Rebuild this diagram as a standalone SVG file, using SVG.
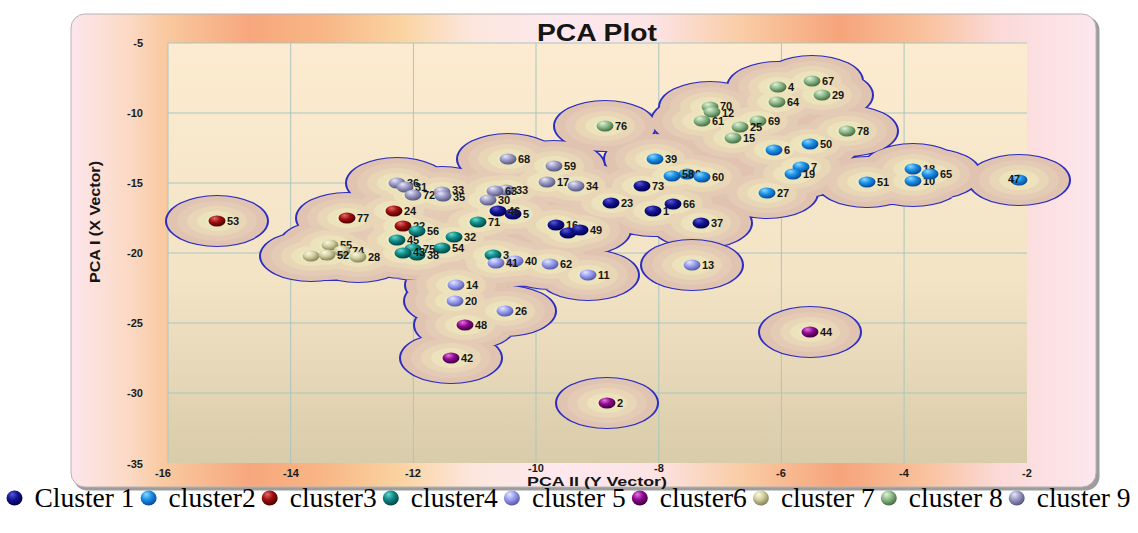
<svg xmlns="http://www.w3.org/2000/svg" xmlns:xlink="http://www.w3.org/1999/xlink" width="1138" height="533" viewBox="0 0 1138 533">
<defs>
<style>
.lb{font-family:"Liberation Sans",Arial,sans-serif;font-weight:bold;font-size:11px;fill:#161616}
.tk{font-family:"Liberation Sans",Arial,sans-serif;font-weight:bold;font-size:11px;fill:#1a1a1a}
.lg{font-family:"Liberation Serif","Times New Roman",serif;font-size:27.5px;fill:#000}
.grid line{stroke:#a9c6bf;stroke-width:1}
.bs{stroke:#2c2cc4;stroke-width:104}
.r1{stroke:#e0c3b1;stroke-width:100}
.r2{stroke:#e4cbb5;stroke-width:80}
.r3{stroke:#e8d6b7;stroke-width:60}
.r4{stroke:#ece2bb;stroke-width:40}
.r5{stroke:#efebc2;stroke-width:22}
.c1{fill:url(#g1)}.c2{fill:url(#g2)}.c3{fill:url(#g3)}.c4{fill:url(#g4)}.c5{fill:url(#g5)}.c6{fill:url(#g6)}.c7{fill:url(#g7)}.c8{fill:url(#g8)}.c9{fill:url(#g9)}
</style>
<linearGradient id="frameG" gradientUnits="userSpaceOnUse" x1="70" y1="0" x2="1098" y2="0">
<stop offset="0" stop-color="#fde6ec"/>
<stop offset=".058" stop-color="#fbd9c4"/>
<stop offset=".092" stop-color="#f9c9a0"/>
<stop offset=".175" stop-color="#f7a77d"/>
<stop offset=".243" stop-color="#f8b585"/>
<stop offset=".321" stop-color="#fad3a0"/>
<stop offset=".389" stop-color="#fce6dc"/>
<stop offset=".477" stop-color="#fde8ee"/>
<stop offset=".564" stop-color="#fce4e6"/>
<stop offset=".652" stop-color="#f9cda6"/>
<stop offset=".749" stop-color="#f6a47a"/>
<stop offset=".827" stop-color="#f9c09a"/>
<stop offset=".905" stop-color="#fbdad8"/>
<stop offset="1" stop-color="#fde7ee"/>
</linearGradient>
<linearGradient id="plotG" x1="0" y1="0" x2="0" y2="1">
<stop offset="0" stop-color="#fcebd0"/>
<stop offset=".55" stop-color="#f3e4c6"/>
<stop offset="1" stop-color="#d9ccaa"/>
</linearGradient>
<radialGradient id="g1" cx=".4" cy=".35" r=".65" fx=".35" fy=".25"><stop offset="0" stop-color="#5a5ad8"/><stop offset=".5" stop-color="#141494"/><stop offset="1" stop-color="#00004a"/></radialGradient>
<radialGradient id="g2" cx=".4" cy=".35" r=".65" fx=".35" fy=".25"><stop offset="0" stop-color="#90d8ff"/><stop offset=".5" stop-color="#1a90e6"/><stop offset="1" stop-color="#0a4a98"/></radialGradient>
<radialGradient id="g3" cx=".4" cy=".35" r=".65" fx=".35" fy=".25"><stop offset="0" stop-color="#e66a6a"/><stop offset=".5" stop-color="#a01010"/><stop offset="1" stop-color="#4a0000"/></radialGradient>
<radialGradient id="g4" cx=".4" cy=".35" r=".65" fx=".35" fy=".25"><stop offset="0" stop-color="#6ad6ce"/><stop offset=".5" stop-color="#108c88"/><stop offset="1" stop-color="#004444"/></radialGradient>
<radialGradient id="g5" cx=".4" cy=".35" r=".65" fx=".35" fy=".25"><stop offset="0" stop-color="#e6e8ff"/><stop offset=".5" stop-color="#9a9ef0"/><stop offset="1" stop-color="#565aa4"/></radialGradient>
<radialGradient id="g6" cx=".4" cy=".35" r=".65" fx=".35" fy=".25"><stop offset="0" stop-color="#e676e6"/><stop offset=".5" stop-color="#900a90"/><stop offset="1" stop-color="#3c003c"/></radialGradient>
<radialGradient id="g7" cx=".4" cy=".35" r=".65" fx=".35" fy=".25"><stop offset="0" stop-color="#fbfae6"/><stop offset=".5" stop-color="#d2ce9e"/><stop offset="1" stop-color="#86825c"/></radialGradient>
<radialGradient id="g8" cx=".4" cy=".35" r=".65" fx=".35" fy=".25"><stop offset="0" stop-color="#e2f2da"/><stop offset=".5" stop-color="#8eba8a"/><stop offset="1" stop-color="#466c44"/></radialGradient>
<radialGradient id="g9" cx=".4" cy=".35" r=".65" fx=".35" fy=".25"><stop offset="0" stop-color="#e8e8f6"/><stop offset=".5" stop-color="#9a9ac6"/><stop offset="1" stop-color="#56567c"/></radialGradient>
<ellipse id="B" cx="0" cy="0" rx="8.5" ry="5.5"/>
<ellipse id="LB" cx="0" cy="0" rx="8" ry="7.5"/>
<path id="blob" fill="none" stroke-linecap="round" d="M642 372h.01M611 406h.01M673 408h.01M653 422h.01M701 446h.01M556 450h.01M568 466h.01M580 460h.01M513 428h.01M498 422h.01M655 318h.01M687 348h.01M672 352h.01M702 354h.01M774 300h.01M810 288h.01M801 334h.01M793 348h.01M767 386h.01M867 364h.01M913 338h.01M913 362h.01M930 348h.01M1019 360h.01M217 442h.01M347 436h.01M394 422h.01M403 452h.01M478 444h.01M417 462h.01M397 480h.01M454 474h.01M442 496h.01M413 498h.01M417 510h.01M403 506h.01M493 510h.01M515 522h.01M496 526h.01M550 528h.01M588 550h.01M456 570h.01M455 602h.01M505 622h.01M465 650h.01M451 716h.01M607 806h.01M810 664h.01M330 490h.01M342 502h.01M311 512h.01M327 510h.01M358 514h.01M605 252h.01M710 214h.01M712 224h.01M702 242h.01M778 174h.01M812 162h.01M822 190h.01M777 204h.01M758 242h.01M740 254h.01M733 276h.01M847 262h.01M397 366h.01M405 374h.01M413 390h.01M442 384h.01M443 392h.01M508 318h.01M554 332h.01M547 364h.01M576 372h.01M506 380h.01M495 382h.01M488 400h.01"/>
<path id="blob13" fill="none" stroke-linecap="round" d="M692 530h.01"/>
</defs>

<g id="frame">
<rect x="73.5" y="16.5" width="1026" height="474" rx="14" fill="#9c9c9c"/>
<rect x="71" y="14" width="1025" height="473" rx="14" fill="url(#frameG)" stroke="#b4b4b4" stroke-width="1"/>
</g>

<g id="plot">
<rect x="168" y="43" width="859" height="420" fill="url(#plotG)"/>
<g class="grid">
<line x1="168" y1="43" x2="1027" y2="43"/>
<line x1="168" y1="113" x2="1027" y2="113"/>
<line x1="168" y1="183" x2="1027" y2="183"/>
<line x1="168" y1="253" x2="1027" y2="253"/>
<line x1="168" y1="323" x2="1027" y2="323"/>
<line x1="168" y1="393" x2="1027" y2="393"/>
<line x1="168" y1="43" x2="168" y2="463"/>
<line x1="290.7" y1="43" x2="290.7" y2="463"/>
<line x1="413.4" y1="43" x2="413.4" y2="463"/>
<line x1="536" y1="43" x2="536" y2="463"/>
<line x1="658.8" y1="43" x2="658.8" y2="463"/>
<line x1="781.4" y1="43" x2="781.4" y2="463"/>
<line x1="904.1" y1="43" x2="904.1" y2="463"/>
</g>
</g>

<g id="blobs">
<use xlink:href="#blob" href="#blob" transform="scale(1,0.5)" class="bs"/>
<use xlink:href="#blob" href="#blob" transform="scale(1,0.5)" class="r1"/>
<use xlink:href="#blob" href="#blob" transform="scale(1,0.5)" class="r2"/>
<use xlink:href="#blob" href="#blob" transform="scale(1,0.5)" class="r3"/>
<use xlink:href="#blob" href="#blob" transform="scale(1,0.5)" class="r4"/>
<use xlink:href="#blob" href="#blob" transform="scale(1,0.5)" class="r5"/>
<use xlink:href="#blob13" href="#blob13" transform="scale(1,0.5)" class="bs"/>
<use xlink:href="#blob13" href="#blob13" transform="scale(1,0.5)" class="r1"/>
<use xlink:href="#blob13" href="#blob13" transform="scale(1,0.5)" class="r2"/>
<use xlink:href="#blob13" href="#blob13" transform="scale(1,0.5)" class="r3"/>
<use xlink:href="#blob13" href="#blob13" transform="scale(1,0.5)" class="r4"/>
<use xlink:href="#blob13" href="#blob13" transform="scale(1,0.5)" class="r5"/>
</g>

<g id="points">
<g id="pt-53"><use href="#B" x="217" y="221" class="c3"/><text class="lb" x="227" y="225">53</text></g>
<g id="pt-77"><use href="#B" x="347" y="218" class="c3"/><text class="lb" x="357" y="222">77</text></g>
<g id="pt-24"><use href="#B" x="394" y="211" class="c3"/><text class="lb" x="404" y="215">24</text></g>
<g id="pt-22"><use href="#B" x="403" y="226" class="c3"/><text class="lb" x="413" y="230">22</text></g>

<g id="pt-55"><use href="#B" x="330" y="245" class="c7"/><text class="lb" x="340" y="249">55</text></g>
<g id="pt-74"><use href="#B" x="342" y="251" class="c7"/><text class="lb" x="352" y="255">74</text></g>
<g id="pt-57"><use href="#B" x="311" y="256" class="c7"/><text class="lb" x="321" y="260">57</text></g>
<g id="pt-52"><use href="#B" x="327" y="255" class="c7"/><text class="lb" x="337" y="259">52</text></g>
<g id="pt-28"><use href="#B" x="358" y="257" class="c7"/><text class="lb" x="368" y="261">28</text></g>

<g id="pt-36"><use href="#B" x="397" y="183" class="c9"/><text class="lb" x="407" y="187">36</text></g>
<g id="pt-31"><use href="#B" x="405" y="187" class="c9"/><text class="lb" x="415" y="191">31</text></g>
<g id="pt-72"><use href="#B" x="413" y="195" class="c9"/><text class="lb" x="423" y="199">72</text></g>
<g id="pt-33"><use href="#B" x="442" y="192" class="c9"/><text class="lb" x="452" y="194">33</text></g>
<g id="pt-35"><use href="#B" x="443" y="196" class="c9"/><text class="lb" x="453" y="201">35</text></g>
<g id="pt-68"><use href="#B" x="508" y="159" class="c9"/><text class="lb" x="518" y="163">68</text></g>
<g id="pt-59"><use href="#B" x="554" y="166" class="c9"/><text class="lb" x="564" y="170">59</text></g>
<g id="pt-17"><use href="#B" x="547" y="182" class="c9"/><text class="lb" x="557" y="186">17</text></g>
<g id="pt-34"><use href="#B" x="576" y="186" class="c9"/><text class="lb" x="586" y="190">34</text></g>
<g id="pt-33b"><use href="#B" x="506" y="190" class="c9"/><text class="lb" x="516" y="194">33</text></g>
<g id="pt-63"><use href="#B" x="495" y="191" class="c9"/><text class="lb" x="505" y="195">63</text></g>
<g id="pt-30"><use href="#B" x="488" y="200" class="c9"/><text class="lb" x="498" y="204">30</text></g>

<g id="pt-71"><use href="#B" x="478" y="222" class="c4"/><text class="lb" x="488" y="226">71</text></g>
<g id="pt-56"><use href="#B" x="417" y="231" class="c4"/><text class="lb" x="427" y="235">56</text></g>
<g id="pt-45"><use href="#B" x="397" y="240" class="c4"/><text class="lb" x="407" y="244">45</text></g>
<g id="pt-32"><use href="#B" x="454" y="237" class="c4"/><text class="lb" x="464" y="241">32</text></g>
<g id="pt-54"><use href="#B" x="442" y="248" class="c4"/><text class="lb" x="452" y="252">54</text></g>
<g id="pt-75"><use href="#B" x="413" y="249" class="c4"/><text class="lb" x="423" y="253">75</text></g>
<g id="pt-38"><use href="#B" x="417" y="255" class="c4"/><text class="lb" x="427" y="259">38</text></g>
<g id="pt-43"><use href="#B" x="403" y="253" class="c4"/><text class="lb" x="413" y="256">43</text></g>
<g id="pt-3"><use href="#B" x="493" y="255" class="c4"/><text class="lb" x="503" y="259">3</text></g>

<g id="pt-5"><use href="#B" x="513" y="214" class="c1"/><text class="lb" x="523" y="218">5</text></g>
<g id="pt-46"><use href="#B" x="498" y="211" class="c1"/><text class="lb" x="508" y="215">46</text></g>
<g id="pt-73"><use href="#B" x="642" y="186" class="c1"/><text class="lb" x="652" y="190">73</text></g>
<g id="pt-23"><use href="#B" x="611" y="203" class="c1"/><text class="lb" x="621" y="207">23</text></g>
<g id="pt-66"><use href="#B" x="673" y="204" class="c1"/><text class="lb" x="683" y="208">66</text></g>
<g id="pt-1"><use href="#B" x="653" y="211" class="c1"/><text class="lb" x="663" y="215">1</text></g>
<g id="pt-37"><use href="#B" x="701" y="223" class="c1"/><text class="lb" x="711" y="227">37</text></g>
<g id="pt-16"><use href="#B" x="556" y="225" class="c1"/><text class="lb" x="566" y="229">16</text></g>
<g id="pt-21"><use href="#B" x="568" y="233" class="c1"/></g>
<g id="pt-49"><use href="#B" x="580" y="230" class="c1"/><text class="lb" x="590" y="234">49</text></g>

<g id="pt-40"><use href="#B" x="515" y="261" class="c5"/><text class="lb" x="525" y="265">40</text></g>
<g id="pt-41"><use href="#B" x="496" y="263" class="c5"/><text class="lb" x="506" y="267">41</text></g>
<g id="pt-62"><use href="#B" x="550" y="264" class="c5"/><text class="lb" x="560" y="268">62</text></g>
<g id="pt-11"><use href="#B" x="588" y="275" class="c5"/><text class="lb" x="598" y="279">11</text></g>
<g id="pt-13"><use href="#B" x="692" y="265" class="c5"/><text class="lb" x="702" y="269">13</text></g>
<g id="pt-14"><use href="#B" x="456" y="285" class="c5"/><text class="lb" x="466" y="289">14</text></g>
<g id="pt-20"><use href="#B" x="455" y="301" class="c5"/><text class="lb" x="465" y="305">20</text></g>
<g id="pt-26"><use href="#B" x="505" y="311" class="c5"/><text class="lb" x="515" y="315">26</text></g>

<g id="pt-48"><use href="#B" x="465" y="325" class="c6"/><text class="lb" x="475" y="329">48</text></g>
<g id="pt-42"><use href="#B" x="451" y="358" class="c6"/><text class="lb" x="461" y="362">42</text></g>
<g id="pt-2"><use href="#B" x="607" y="403" class="c6"/><text class="lb" x="617" y="407">2</text></g>
<g id="pt-44"><use href="#B" x="810" y="332" class="c6"/><text class="lb" x="820" y="336">44</text></g>

<g id="pt-76"><use href="#B" x="605" y="126" class="c8"/><text class="lb" x="615" y="130">76</text></g>
<g id="pt-70"><use href="#B" x="710" y="107" class="c8"/><text class="lb" x="720" y="110">70</text></g>
<g id="pt-12"><use href="#B" x="712" y="112" class="c8"/><text class="lb" x="722" y="117">12</text></g>
<g id="pt-61"><use href="#B" x="702" y="121" class="c8"/><text class="lb" x="712" y="125">61</text></g>
<g id="pt-4"><use href="#B" x="778" y="87" class="c8"/><text class="lb" x="788" y="91">4</text></g>
<g id="pt-67"><use href="#B" x="812" y="81" class="c8"/><text class="lb" x="822" y="85">67</text></g>
<g id="pt-29"><use href="#B" x="822" y="95" class="c8"/><text class="lb" x="832" y="99">29</text></g>
<g id="pt-64"><use href="#B" x="777" y="102" class="c8"/><text class="lb" x="787" y="106">64</text></g>
<g id="pt-69"><use href="#B" x="758" y="121" class="c8"/><text class="lb" x="768" y="125">69</text></g>
<g id="pt-25"><use href="#B" x="740" y="127" class="c8"/><text class="lb" x="750" y="131">25</text></g>
<g id="pt-15"><use href="#B" x="733" y="138" class="c8"/><text class="lb" x="743" y="142">15</text></g>
<g id="pt-78"><use href="#B" x="847" y="131" class="c8"/><text class="lb" x="857" y="135">78</text></g>

<g id="pt-39"><use href="#B" x="655" y="159" class="c2"/><text class="lb" x="665" y="163">39</text></g>
<g id="pt-9"><use href="#B" x="687" y="174" class="c2"/><text class="lb" x="695" y="178">9</text></g>
<g id="pt-58"><use href="#B" x="672" y="176" class="c2"/><text class="lb" x="682" y="178">58</text></g>
<g id="pt-60"><use href="#B" x="702" y="177" class="c2"/><text class="lb" x="712" y="181">60</text></g>
<g id="pt-6"><use href="#B" x="774" y="150" class="c2"/><text class="lb" x="784" y="154">6</text></g>
<g id="pt-50"><use href="#B" x="810" y="144" class="c2"/><text class="lb" x="820" y="148">50</text></g>
<g id="pt-7"><use href="#B" x="801" y="167" class="c2"/><text class="lb" x="811" y="171">7</text></g>
<g id="pt-19"><use href="#B" x="793" y="174" class="c2"/><text class="lb" x="803" y="178">19</text></g>
<g id="pt-27"><use href="#B" x="767" y="193" class="c2"/><text class="lb" x="777" y="197">27</text></g>
<g id="pt-51"><use href="#B" x="867" y="182" class="c2"/><text class="lb" x="877" y="186">51</text></g>
<g id="pt-18"><use href="#B" x="913" y="169" class="c2"/><text class="lb" x="923" y="173">18</text></g>
<g id="pt-10"><use href="#B" x="913" y="181" class="c2"/><text class="lb" x="923" y="185">10</text></g>
<g id="pt-65"><use href="#B" x="930" y="174" class="c2"/><text class="lb" x="940" y="178">65</text></g>
<g id="pt-47"><use href="#B" x="1019" y="180" class="c2"/><text class="lb" x="1008" y="183">47</text></g>
</g>

<g id="axes">
<text x="597" y="41" text-anchor="middle" textLength="120" lengthAdjust="spacingAndGlyphs" style="font-family:'Liberation Sans',Arial,sans-serif;font-weight:bold;font-size:24px;fill:#151515">PCA Plot</text>
<g class="tk" text-anchor="end">
<text x="143" y="47">-5</text>
<text x="143" y="117">-10</text>
<text x="143" y="187">-15</text>
<text x="143" y="257">-20</text>
<text x="143" y="327">-25</text>
<text x="143" y="397">-30</text>
<text x="143" y="468">-35</text>
</g>
<g class="tk" text-anchor="middle">
<text x="163" y="477">-16</text>
<text x="291" y="477">-14</text>
<text x="413" y="477">-12</text>
<text x="536" y="472">-10</text>
<text x="659" y="472">-8</text>
<text x="781" y="477">-6</text>
<text x="904" y="477">-4</text>
<text x="1027" y="477">-2</text>
</g>
<text x="527" y="486" textLength="140" lengthAdjust="spacingAndGlyphs" style="font-family:'Liberation Sans',Arial,sans-serif;font-weight:bold;font-size:12.5px;fill:#151515">PCA II (Y Vector)</text>
<text transform="translate(100,222) rotate(-90)" text-anchor="middle" textLength="122" lengthAdjust="spacingAndGlyphs" style="font-family:'Liberation Sans Narrow','Liberation Sans',Arial,sans-serif;font-weight:bold;font-size:15px;fill:#151515">PCA I (X Vector)</text>
</g>

<g id="legend">
<use href="#LB" x="14.5" y="498" class="c1"/><text class="lg" x="34.5" y="507">Cluster 1</text>
<use href="#LB" x="148.6" y="498" class="c2"/><text class="lg" x="168.6" y="507">cluster2</text>
<use href="#LB" x="269.7" y="498" class="c3"/><text class="lg" x="289.7" y="507">cluster3</text>
<use href="#LB" x="390.8" y="498" class="c4"/><text class="lg" x="410.8" y="507">cluster4</text>
<use href="#LB" x="511.9" y="498" class="c5"/><text class="lg" x="531.9" y="507">cluster 5</text>
<use href="#LB" x="639.8" y="498" class="c6"/><text class="lg" x="659.8" y="507">cluster6</text>
<use href="#LB" x="760.9" y="498" class="c7"/><text class="lg" x="780.9" y="507">cluster 7</text>
<use href="#LB" x="888.8" y="498" class="c8"/><text class="lg" x="908.8" y="507">cluster 8</text>
<use href="#LB" x="1016.7" y="498" class="c9"/><text class="lg" x="1036.7" y="507">cluster 9</text>
</g>
</svg>
